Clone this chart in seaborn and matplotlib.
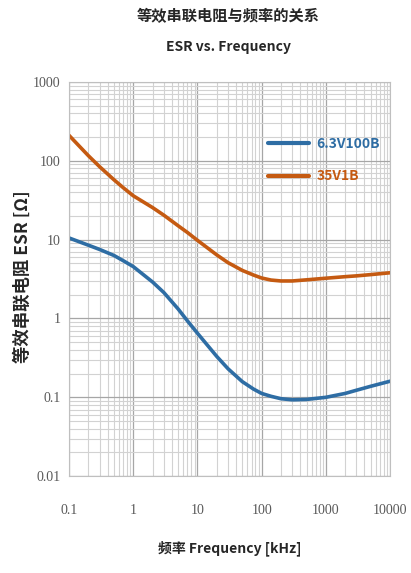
import pandas as pd
import matplotlib.pyplot as plt
import seaborn as sns

# Datos (frecuencia en kHz, ESR en ohmios)
freq_khz = [0.1, 0.2, 0.3, 0.5, 0.7, 1, 2, 3, 5, 7, 10, 20, 30, 50, 75, 100,
            140, 200, 300, 500, 1000, 2000, 3000, 5000, 10000]
esr_63v100b = [10.5, 8.5, 7.5, 6.3, 5.4, 4.55, 2.9, 2.13, 1.32, 0.93, 0.65, 0.33, 0.23, 0.158, 0.127, 0.112,
               0.103, 0.096, 0.093, 0.094, 0.1, 0.112, 0.123, 0.138, 0.16]
esr_35v1b = [210, 116, 84, 57.5, 45.5, 36, 25.5, 20.4, 15, 12.3, 9.8, 6.4, 5.1, 4.07, 3.55, 3.26,
             3.07, 2.99, 2.99, 3.09, 3.24, 3.39, 3.47, 3.6, 3.8]
series_names = ['6.3V100B', '35V1B']
series_colors = ['#2E6DA4', '#C55A11']

x_ticks = [0.1, 1, 10, 100, 1000, 10000]
x_tick_labels = ['0.1', '1', '10', '100', '1000', '10000']
y_ticks = [0.01, 0.1, 1, 10, 100, 1000]
y_tick_labels = ['0.01', '0.1', '1', '10', '100', '1000']

df = pd.DataFrame({
    'freq': freq_khz * 2,
    'esr': esr_63v100b + esr_35v1b,
    'serie': [series_names[0]] * len(freq_khz) + [series_names[1]] * len(freq_khz),
})

sns.set_style('white')
plt.rcParams['font.family'] = ['Noto Sans CJK SC', 'DejaVu Sans']

fig = plt.figure(figsize=(4.11, 5.73), dpi=100)
ax = fig.add_axes([0.168, 0.169, 0.781, 0.688])

sns.lineplot(data=df, x='freq', y='esr', hue='serie', palette=series_colors,
             linewidth=2.6, ax=ax, sort=True, errorbar=None,
             solid_joinstyle='round', solid_capstyle='round')

ax.set_xscale('log')
ax.set_yscale('log')
ax.set_xlim(0.1, 10000)
ax.set_ylim(0.01, 1000)

ax.grid(True, which='major', color='#a6a6a6', linewidth=0.9)
ax.grid(True, which='minor', color='#d2d2d2', linewidth=0.8)
ax.set_axisbelow(True)
for s in ax.spines.values():
    s.set_color('#bfbfbf')
    s.set_linewidth(0.8)

ax.set_xticks(x_ticks)
ax.set_xticklabels(x_tick_labels)
ax.set_yticks(y_ticks)
ax.set_yticklabels(y_tick_labels)
ax.tick_params(axis='both', which='both', length=0, colors='#595959', labelsize=10)
ax.tick_params(axis='x', pad=20)
ax.tick_params(axis='y', pad=6)
for lbl in ax.get_xticklabels() + ax.get_yticklabels():
    lbl.set_family(['Liberation Serif', 'DejaVu Serif'])

ax.set_xlabel('频率 Frequency [kHz]', fontsize=10, fontweight='bold', labelpad=17)
ax.set_ylabel('等效串联电阻 ESR [Ω]', fontsize=12.5, fontweight='bold')
ax.yaxis.set_label_coords(-0.115, 0.505)

fig.text(0.556, 0.972, '等效串联电阻与频率的关系', ha='center', va='center',
         fontsize=11, fontweight='bold')
fig.text(0.556, 0.918, 'ESR vs. Frequency', ha='center', va='center',
         fontsize=10, fontweight='bold')

leg = ax.legend(loc='upper left', bbox_to_anchor=(0.58, 0.893), frameon=False,
                handlelength=3.0, handletextpad=0.5, labelspacing=1.35,
                fontsize=10, title=None)
for txt, c in zip(leg.get_texts(), series_colors):
    txt.set_color(c)
    txt.set_fontweight('bold')
for line in leg.get_lines():
    line.set_linewidth(3)

fig.savefig('out.png', dpi=100)
